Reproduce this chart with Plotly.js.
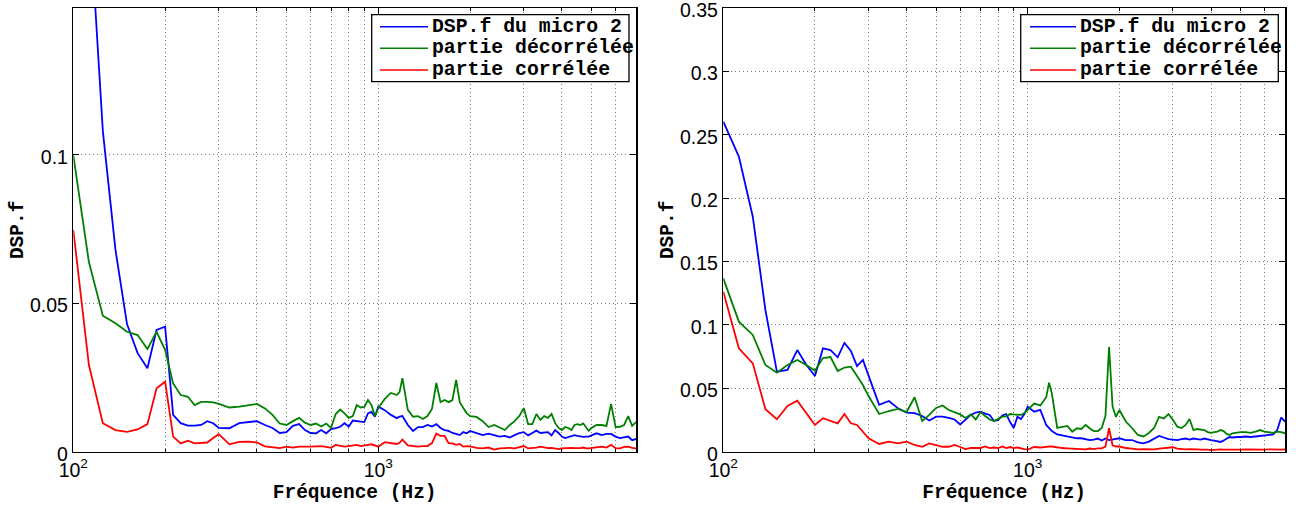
<!DOCTYPE html>
<html>
<head>
<meta charset="utf-8">
<script src="https://cdn.plot.ly/plotly-3.0.1.min.js"></script>
<style>html,body{margin:0;padding:0;background:#fff}#chart{width:1296px;height:507px}</style>
</head>
<body>
<div id="chart"></div>
<script>
// Frequency bins (Hz)
const freq = [100,112.5,125,137.5,150,162.5,175,187.5,200,212.5,225,237.5,250,262.5,275,287.5,300,
325,350,375,400,425,450,475,500,525,550,575,600,625,650,675,700,725,750,775,800,825,850,875,900,925,950,975,1000,
1050,1100,1150,1175,1200,1250,1300,1350,1400,1450,1500,1550,1600,1650,1700,1750,1800,1850,1900,1950,2000,
2100,2200,2300,2400,2500,2600,2700,2800,2900,3000,3100,3200,3300,3400,3500,3600,3700,3800,3900,4000,
4100,4200,4300,4400,4500,4600,4700,4800,4900,5000,
5200,5400,5600,5800,6000,6200,6400,6600,6800,7000];

// Left panel
const leftDsp = [0.28,0.185,0.108,0.068,0.043,0.0332,0.0281,0.0410,0.0421,0.0124,0.0096,0.0088,0.0088,0.0090,0.0103,0.0096,0.0080,
0.0079,0.0096,0.0100,0.0103,0.0090,0.0080,0.0063,0.0066,0.0087,0.0093,0.0073,0.0063,0.0062,0.0073,0.0062,0.0076,0.0079,0.0084,0.0096,0.0084,0.0105,0.0103,0.0100,0.0100,0.0129,0.0134,0.0118,0.0152,
0.0140,0.0124,0.0113,0.0118,0.0120,0.0090,0.0070,0.0083,0.0083,0.0090,0.0085,0.0093,0.0080,0.0073,0.0070,0.0063,0.0060,0.0056,0.0066,0.0062,0.0070,
0.0062,0.0056,0.0061,0.0056,0.0051,0.0053,0.0048,0.0056,0.0063,0.0066,0.0055,0.0063,0.0071,0.0063,0.0065,0.0066,0.0055,0.0073,0.0063,0.0051,
0.0046,0.0050,0.0053,0.0056,0.0053,0.0051,0.0050,0.0051,0.0051,0.0055,
0.0062,0.0056,0.0060,0.0060,0.0051,0.0046,0.0048,0.0051,0.0039,0.0043];
const leftDec = [0.0999,0.0639,0.0458,0.0433,0.0404,0.0393,0.0346,0.0404,0.0343,0.0230,0.0191,0.0185,0.0157,0.0168,0.0168,0.0166,0.0161,
0.0149,0.0152,0.0156,0.0161,0.0146,0.0124,0.0095,0.0090,0.0103,0.0114,0.0098,0.0090,0.0095,0.0085,0.0095,0.0080,0.0127,0.0142,0.0129,0.0114,0.0120,0.0157,0.0149,0.0151,0.0174,0.0157,0.0120,0.0147,
0.0178,0.0198,0.0191,0.0202,0.0248,0.0141,0.0118,0.0120,0.0110,0.0120,0.0144,0.0232,0.0167,0.0174,0.0167,0.0174,0.0242,0.0167,0.0147,0.0130,0.0120,
0.0117,0.0103,0.0083,0.0090,0.0080,0.0073,0.0090,0.0103,0.0120,0.0147,0.0093,0.0093,0.0127,0.0107,0.0120,0.0114,0.0127,0.0097,0.0080,0.0073,
0.0083,0.0080,0.0073,0.0090,0.0093,0.0090,0.0095,0.0080,0.0070,0.0080,
0.0090,0.0090,0.0087,0.0161,0.0083,0.0084,0.0090,0.0120,0.0087,0.0100];
const leftCor = [0.0747,0.0292,0.0096,0.0073,0.0067,0.0075,0.0093,0.0214,0.0236,0.0051,0.0028,0.0037,0.0028,0.0029,0.0031,0.0046,0.0059,
0.0025,0.0033,0.0034,0.0031,0.0018,0.0014,0.0012,0.0017,0.0014,0.0017,0.0016,0.0017,0.0018,0.0019,0.0016,0.0013,0.0023,0.0019,0.0017,0.0019,0.0021,0.0023,0.0019,0.0020,0.0023,0.0025,0.0021,0.0017,
0.0032,0.0028,0.0026,0.0030,0.0041,0.0021,0.0018,0.0017,0.0019,0.0019,0.0029,0.0061,0.0053,0.0053,0.0029,0.0028,0.0023,0.0026,0.0017,0.0019,0.0018,
0.0013,0.0011,0.0014,0.0007,0.0011,0.0012,0.0013,0.0011,0.0014,0.0019,0.0011,0.0012,0.0014,0.0017,0.0014,0.0012,0.0013,0.0011,0.0009,0.0011,
0.0012,0.0011,0.0013,0.0012,0.0011,0.0012,0.0014,0.0011,0.0011,0.0012,
0.0014,0.0017,0.0014,0.0023,0.0012,0.0011,0.0016,0.0017,0.0013,0.0011];

// Right panel
const rightDsp = [0.2604,0.2328,0.1854,0.1118,0.0631,0.0645,0.0802,0.0684,0.0597,0.0816,0.0802,0.0745,0.0858,0.0795,0.0676,0.0724,0.0600,
0.0370,0.0400,0.0342,0.0309,0.0305,0.0282,0.0246,0.0276,0.0276,0.0266,0.0254,0.0215,0.0250,0.0290,0.0309,0.0316,0.0301,0.0290,0.0242,0.0250,0.0286,0.0297,0.0234,0.0187,0.0276,0.0258,0.0297,0.0355,
0.0316,0.0330,0.0211,0.0190,0.0163,0.0136,0.0128,0.0118,0.0108,0.0106,0.0106,0.0100,0.0092,0.0096,0.0104,0.0088,0.0104,0.0092,0.0096,0.0100,0.0106,
0.0092,0.0092,0.0073,0.0066,0.0080,0.0100,0.0124,0.0112,0.0100,0.0096,0.0092,0.0100,0.0104,0.0096,0.0104,0.0100,0.0096,0.0104,0.0096,0.0092,
0.0088,0.0080,0.0077,0.0088,0.0104,0.0116,0.0112,0.0116,0.0116,0.0116,
0.0120,0.0116,0.0120,0.0120,0.0128,0.0132,0.0136,0.0171,0.0270,0.0237];
const rightDec = [0.1368,0.1026,0.0921,0.0684,0.0623,0.0684,0.0724,0.0684,0.0639,0.0739,0.0747,0.0637,0.0664,0.0671,0.0597,0.0526,0.0439,
0.0297,0.0321,0.0337,0.0313,0.0430,0.0242,0.0290,0.0345,0.0365,0.0329,0.0313,0.0294,0.0266,0.0294,0.0254,0.0313,0.0282,0.0254,0.0242,0.0258,0.0276,0.0278,0.0297,0.0294,0.0290,0.0290,0.0305,0.0329,
0.0380,0.0365,0.0430,0.0544,0.0460,0.0187,0.0195,0.0203,0.0158,0.0185,0.0179,0.0211,0.0183,0.0163,0.0163,0.0187,0.0282,0.0826,0.0355,0.0274,0.0329,
0.0238,0.0187,0.0132,0.0120,0.0148,0.0187,0.0274,0.0262,0.0297,0.0250,0.0197,0.0187,0.0211,0.0258,0.0171,0.0179,0.0175,0.0171,0.0155,0.0148,
0.0155,0.0159,0.0171,0.0163,0.0140,0.0132,0.0144,0.0148,0.0151,0.0155,
0.0155,0.0148,0.0159,0.0171,0.0159,0.0155,0.0148,0.0159,0.0155,0.0145];
const rightCor = [0.1262,0.0816,0.0697,0.0335,0.0256,0.0361,0.0402,0.0303,0.0211,0.0264,0.0245,0.0224,0.0297,0.0224,0.0211,0.0158,0.0106,
0.0061,0.0079,0.0066,0.0079,0.0053,0.0039,0.0066,0.0053,0.0039,0.0039,0.0053,0.0037,0.0021,0.0029,0.0027,0.0029,0.0041,0.0029,0.0033,0.0029,0.0041,0.0029,0.0037,0.0029,0.0033,0.0025,0.0021,0.0017,
0.0037,0.0033,0.0041,0.0041,0.0041,0.0033,0.0029,0.0027,0.0025,0.0027,0.0021,0.0019,0.0025,0.0021,0.0027,0.0027,0.0040,0.0185,0.0050,0.0041,0.0041,
0.0029,0.0025,0.0019,0.0021,0.0019,0.0019,0.0025,0.0027,0.0033,0.0035,0.0025,0.0021,0.0019,0.0021,0.0017,0.0019,0.0017,0.0019,0.0016,0.0013,
0.0017,0.0016,0.0019,0.0017,0.0016,0.0019,0.0017,0.0019,0.0016,0.0017,
0.0019,0.0017,0.0019,0.0016,0.0017,0.0019,0.0017,0.0019,0.0017,0.0019];

const seriesNames = ['DSP.f du micro 2','partie décorrélée','partie corrélée'];
const seriesColors = ['#0000ff','#008000','#ff0000'];
const xTickVals = [100,1000];
const xTickText = ['10<sup>2</sup>','10<sup>3</sup>'];
const xMinorVals = [200,300,400,500,600,700,800,900,2000,3000,4000,5000,6000,7000];
const leftYTicks = [0,0.05,0.1];
const leftYText = ['0','0.05','0.1'];
const rightYTicks = [0,0.05,0.1,0.15,0.2,0.25,0.3,0.35];
const rightYText = ['0','0.05','0.1','0.15','0.2','0.25','0.3','0.35'];
const xTitle = 'Fréquence (Hz)';
const yTitle = 'DSP.f';

const W = 1296, H = 507;
const px = x => x / W;
const py = y => 1 - y / H;

const panels = [
  {xa:'x', ya:'y', data:[leftDsp,leftDec,leftCor]},
  {xa:'x2', ya:'y2', data:[rightDsp,rightDec,rightCor]}
];
const traces = [];
panels.forEach(p => {
  p.data.forEach((vals,i) => {
    traces.push({x:freq, y:vals, type:'scatter', mode:'lines', name:seriesNames[i],
      xaxis:p.xa, yaxis:p.ya, showlegend:false,
      line:{color:seriesColors[i], width:1.8}});
  });
});

const gridCol = '#7a7a7a';
const gridDash = '1px,3px';
const tickFont = {family:'Liberation Sans, Arial, sans-serif', size:19.5, color:'#000'};
const titleFont = {family:'Liberation Mono, Courier New, monospace', size:19.5, color:'#000'};

function xAxis(domain, anchor){
  return {domain, anchor, type:'log', range:[2, Math.log10(7000)],
    tickmode:'array', tickvals:xTickVals, ticktext:xTickText,
    ticks:'inside', ticklen:6, tickwidth:1, tickcolor:'#000',
    showgrid:true, gridcolor:gridCol, griddash:gridDash, gridwidth:1,
    minor:{tickmode:'array', tickvals:xMinorVals, ticks:'inside', ticklen:3, tickcolor:'#000',
      showgrid:true, gridcolor:gridCol, griddash:gridDash, gridwidth:1},
    showline:true, linecolor:'#000', linewidth:1.5, mirror:'ticks', zeroline:false,
    tickfont:tickFont, automargin:false, ticklabeloverflow:'allow',
    title:{text:'<b>'+xTitle+'</b>', font:titleFont, standoff:5}};
}
function yAxis(domain, anchor, range, tv, tt){
  return {domain, anchor, range, tickmode:'array', tickvals:tv, ticktext:tt,
    ticks:'inside', ticklen:6, tickwidth:1, tickcolor:'#000',
    showgrid:true, gridcolor:gridCol, griddash:gridDash, gridwidth:1,
    showline:true, linecolor:'#000', linewidth:1.5, mirror:'ticks', zeroline:false,
    tickfont:tickFont, automargin:false, ticklabeloverflow:'allow', ticklabelshift:2,
    title:{text:'<b>'+yTitle+'</b>', font:titleFont, standoff:1}};
}

const yDom = [py(451.7), py(8)];
const layout = {
  width:W, height:H, margin:{l:0,r:0,t:0,b:0},
  paper_bgcolor:'#fff', plot_bgcolor:'#fff', showlegend:false,
  xaxis: xAxis([px(73.3), px(636)], 'y'),
  yaxis: yAxis(yDom, 'x', [0,0.1495], leftYTicks, leftYText),
  xaxis2: xAxis([px(723.3), px(1285)], 'y2'),
  yaxis2: yAxis(yDom, 'x2', [0,0.35005], rightYTicks, rightYText),
  shapes:[], annotations:[]
};

// Legends (box + sample lines + labels), drawn in paper coordinates
const legendBoxes = [
  {x0:371.7, x1:629, lx0:380, lx1:428, tx:430},
  {x0:1020.7, x1:1278.3, lx0:1030, lx1:1076, tx:1078.3}
];
const rowY = [26.7, 48.3, 70];
legendBoxes.forEach(b => {
  layout.shapes.push({type:'rect', xref:'paper', yref:'paper', layer:'above',
    x0:px(b.x0), x1:px(b.x1), y0:py(81.7), y1:py(14.7),
    fillcolor:'#fff', line:{color:'#000', width:1.3}});
  seriesNames.forEach((n,i) => {
    layout.shapes.push({type:'line', xref:'paper', yref:'paper', layer:'above',
      x0:px(b.lx0), x1:px(b.lx1), y0:py(rowY[i]), y1:py(rowY[i]),
      line:{color:seriesColors[i], width:1.6}});
    layout.annotations.push({xref:'paper', yref:'paper', x:px(b.tx), y:py(rowY[i]),
      xanchor:'left', yanchor:'middle', showarrow:false, text:'<b>'+n+'</b>',
      font:{family:'Liberation Mono, Courier New, monospace', size:19.8, color:'#000'}});
  });
});

Plotly.newPlot('chart', traces, layout, {staticPlot:true, displayModeBar:false});
</script>
</body>
</html>
